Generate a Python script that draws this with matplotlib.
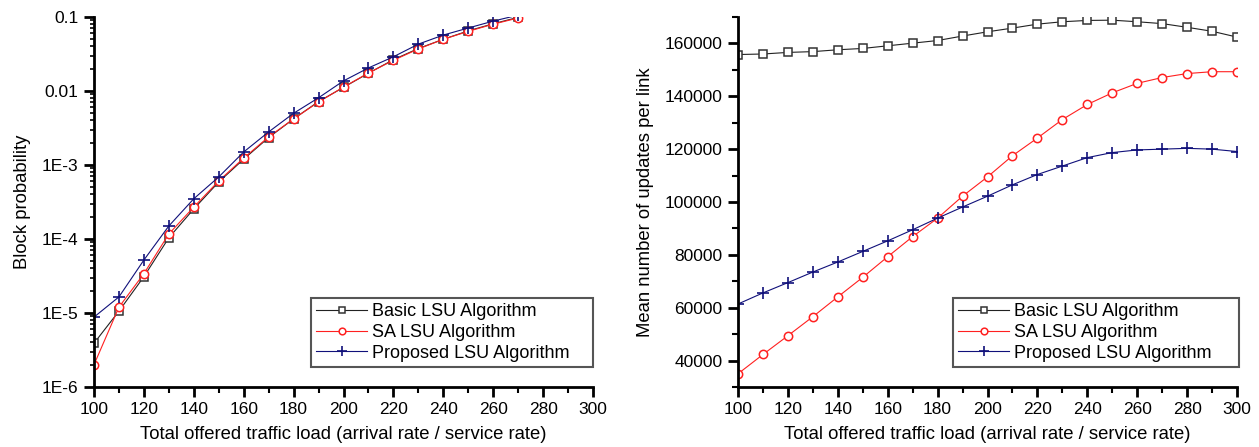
import matplotlib
matplotlib.use("Agg")
import matplotlib.pyplot as plt
from matplotlib.ticker import FixedLocator, FixedFormatter, MultipleLocator, LogLocator, NullFormatter

plt.rcParams['font.family'] = ['Liberation Sans', 'DejaVu Sans']

load_left = [100, 110, 120, 130, 140, 150, 160, 170, 180, 190, 200, 210, 220, 230, 240, 250, 260, 270]
block_basic = [3.9e-6, 1.06e-5, 3.1e-5, 1.04e-4, 2.55e-4, 5.9e-4, 1.2e-3, 2.35e-3, 4.2e-3, 7.2e-3,
               1.12e-2, 1.74e-2, 2.65e-2, 3.75e-2, 5.0e-2, 6.5e-2, 8.1e-2, 0.099]
block_sa = [2.0e-6, 1.2e-5, 3.4e-5, 1.17e-4, 2.7e-4, 6.1e-4, 1.24e-3, 2.4e-3, 4.2e-3, 7.1e-3,
            1.13e-2, 1.75e-2, 2.6e-2, 3.7e-2, 5.0e-2, 6.4e-2, 8.0e-2, 0.097]
block_prop = [8.8e-6, 1.65e-5, 5.2e-5, 1.5e-4, 3.5e-4, 6.9e-4, 1.5e-3, 2.8e-3, 5.0e-3, 8.1e-3,
              1.37e-2, 2.05e-2, 2.9e-2, 4.3e-2, 5.7e-2, 7.1e-2, 8.8e-2, 0.106]

load_right = [100, 110, 120, 130, 140, 150, 160, 170, 180, 190, 200, 210, 220, 230, 240, 250,
              260, 270, 280, 290, 300]
upd_basic = [155800, 156000, 156600, 156900, 157600, 158100, 159100, 160100, 161100, 162800,
             164400, 165800, 167300, 168200, 168700, 168800, 168200, 167500, 166100, 164600, 162400]
upd_sa = [35000, 42300, 49400, 56600, 64100, 71500, 79300, 86900, 93900, 102200, 109500,
          117500, 124200, 131200, 136900, 141300, 144900, 147100, 148600, 149300, 149300]
upd_prop = [61400, 65600, 69500, 73500, 77300, 81300, 85300, 89500, 93900, 98100, 102200,
            106500, 110400, 113600, 116800, 118700, 119700, 120000, 120300, 120000, 119100]

labels = ["Basic LSU Algorithm", "SA LSU Algorithm", "Proposed LSU Algorithm"]
colors = ["#222222", "#ff2020", "#10107a"]
edge_colors = ["#333333", "#ff2020", "#10107a"]
markers = ["s", "o", "+"]

fig = plt.figure(figsize=(12.59, 4.47), dpi=100)
W, H = 1259, 447
ax1 = fig.add_axes([94 / W, 1 - 387 / H, (593 - 94) / W, (387 - 17) / H])
ax2 = fig.add_axes([738 / W, 1 - 387 / H, (1237 - 738) / W, (387 - 17) / H])

def style(ax):
    for s in ["top", "right"]:
        ax.spines[s].set_visible(False)
    for s in ["left", "bottom"]:
        ax.spines[s].set_linewidth(2)
    ax.tick_params(which="major", direction="out", length=7, width=2, labelsize=12.5, color="black", pad=4)
    ax.tick_params(which="minor", direction="out", length=4, width=1.5)
    ax.set_xlim(100, 300)
    ax.xaxis.set_major_locator(MultipleLocator(20))
    ax.xaxis.set_minor_locator(MultipleLocator(10))
    ax.set_xlabel("Total offered traffic load (arrival rate / service rate)", fontsize=13.3, labelpad=6)

def plot_series(ax, x, ys, ms):
    for y, lab, c, ec, m in zip(ys, labels, colors, edge_colors, markers):
        if m == "+":
            ax.plot(x, y, color=c, lw=0.8, marker=m, ms=ms + 3, mew=1.2, label=lab)
        else:
            ax.plot(x, y, color=c, lw=0.8, marker=m, ms=ms, mew=1.1, mfc="white", mec=ec, label=lab)

def add_legend(ax, box):
    leg = ax.legend(loc="lower left", bbox_to_anchor=box, mode="expand",
                    fontsize=13, fancybox=False, edgecolor="#555555", framealpha=1, borderpad=0.3,
                    handlelength=2.8, handletextpad=0.3, labelspacing=0.2, borderaxespad=0,
                    markerscale=0.8)
    leg.get_frame().set_linewidth(1.5)

# Left chart
plot_series(ax1, load_left, [block_basic, block_sa, block_prop], 6)
ax1.set_yscale("log")
ax1.set_ylim(1e-6, 0.1)
ax1.yaxis.set_major_locator(FixedLocator([1e-6, 1e-5, 1e-4, 1e-3, 1e-2, 1e-1]))
ax1.yaxis.set_major_formatter(FixedFormatter(["1E-6", "1E-5", "1E-4", "1E-3", "0.01", "0.1"]))
ax1.yaxis.set_minor_locator(LogLocator(base=10, subs=range(2, 10)))
ax1.yaxis.set_minor_formatter(NullFormatter())
style(ax1)
ax1.tick_params(axis="y", which="minor", length=3, width=1.2)
ax1.set_ylabel("Block probability", fontsize=13.3, labelpad=8)
add_legend(ax1, (217 / 499, 20 / 370, 282 / 499, 74 / 370))

# Right chart
plot_series(ax2, load_right, [upd_basic, upd_sa, upd_prop], 6)
ax2.set_ylim(30000, 170000)
ax2.yaxis.set_major_locator(FixedLocator([40000, 60000, 80000, 100000, 120000, 140000, 160000]))
ax2.yaxis.set_minor_locator(MultipleLocator(10000))
style(ax2)
ax2.set_ylabel("Mean number of updates per link", fontsize=13.3, labelpad=8)
add_legend(ax2, (215 / 499, 20 / 370, 286 / 499, 72 / 370))

fig.savefig("out.png", dpi=100)
